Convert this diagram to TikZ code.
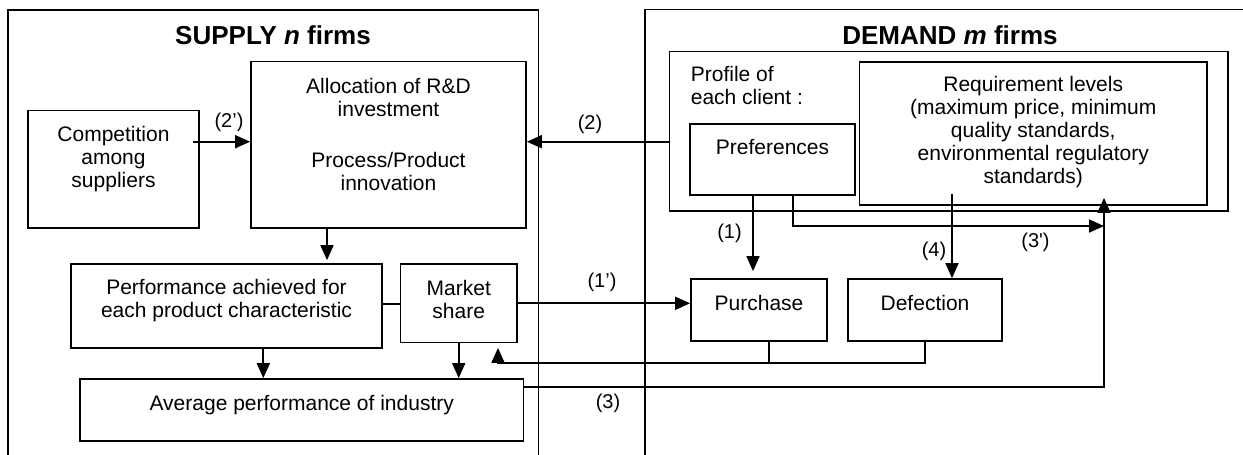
\documentclass[tikz,border=0pt]{standalone}
\usepackage{fontspec}
\setmainfont{Liberation Sans}
\usetikzlibrary{arrows.meta,calc}
\begin{document}
\begin{tikzpicture}[x=1pt,y=-1pt,
  line width=1.7pt,
  box/.style={draw,line width=1.7pt,inner sep=0pt,rectangle},
  txt/.style={inner sep=0pt,align=center,font=\fontsize{21}{23}\selectfont},
  txtone/.style={inner sep=0pt,font=\fontsize{21}{23}\selectfont,anchor=base},
  lbl/.style={inner sep=0pt,font=\fontsize{20}{22}\selectfont},
  ttl/.style={inner sep=0pt,font=\fontsize{26}{30}\selectfont\bfseries,anchor=base},
  arr/.style={-{Triangle[length=15pt,width=13pt]}},
]
\fill[white] (0,0) rectangle (1243,455);
\useasboundingbox (0,0) rectangle (1243,455);

% frames
\draw (8,455) -- (8,10) -- (538.5,10) -- (538.5,455);
\draw (645,455) -- (645,9.5) -- (1243,9.5);

% titles
\node[ttl] (supT) at (273,45) {SUPPLY \textit{n} firms};
\node[ttl] (demT) at (950,45) {DEMAND \textit{m} firms};

% boxes
\node[box,minimum width=171pt,minimum height=117.5pt] (comp) at (113.5,169.25) {};
\node[box,minimum width=275pt,minimum height=166.5pt] (alloc) at (388.5,144.75) {};
\node[box,minimum width=311pt,minimum height=84pt] (perf) at (226.5,306) {};
\node[box,minimum width=116.5pt,minimum height=78.5pt] (mshare) at (458.75,303.25) {};
\node[box,minimum width=443.5pt,minimum height=62pt] (avg) at (301.75,410) {};
\node[box,minimum width=558.5pt,minimum height=159.5pt] (profile) at (948.75,131.25) {};
\node[box,minimum width=165pt,minimum height=71pt] (pref) at (772.5,159.5) {};
\node[box,minimum width=347.5pt,minimum height=143.3pt] (req) at (1033.25,133.35) {};
\node[box,minimum width=136pt,minimum height=62pt] (purch) at (759,310) {};
\node[box,minimum width=154pt,minimum height=62pt] (defect) at (925,310) {};

% texts
\node[txt] (compT) at (113.5,159) {Competition\\among\\suppliers};
\node[txt] (allocT) at (388.5,134) {Allocation of R\&D\\investment\\[28pt]Process/Product\\innovation};
\node[txt] (perfT) at (226.5,301) {Performance achieved for\\each product characteristic};
\node[txt] (msT) at (458.75,299) {Market\\share};
\node[txtone] (avgT) at (301.75,410) {Average performance of industry};
\node[txt,align=left,anchor=west] (profT) at (690,85.7) {Profile of\\each client :};
\node[txtone] (prefT) at (772.5,154) {Preferences};
\node[txt] (reqT) at (1033.25,131.8) {Requirement levels\\(maximum price, minimum\\quality standards,\\environmental regulatory\\standards)};
\node[txtone] (purT) at (759,310) {Purchase};
\node[txtone] (defT) at (925,310) {Defection};

% labels
\node[lbl] (l2p) at (229,122) {(2’)};
\node[lbl] (l2) at (590,124) {(2)};
\node[lbl] (l1p) at (602,282) {(1’)};
\node[lbl] (l3) at (608,403) {(3)};
\node[lbl] (l1) at (729.5,233) {(1)};
\node[lbl] (l4) at (934,251) {(4)};
\node[lbl] (l3p) at (1035.5,242.5) {(3\textquotesingle)};

% helper coordinates
\coordinate (s2p) at (193,141.7);
\coordinate (xA) at (327,0);
\coordinate (xP) at (263.3,0);
\coordinate (xM) at (458.7,0);
\coordinate (yPM) at (0,304);
\coordinate (y1p) at (0,303.3);
\coordinate (fb) at (498,362.7);
\coordinate (xPu) at (769,0);
\coordinate (x1) at (753,0);
\coordinate (x3p) at (793,0);
\coordinate (k3) at (1104,226);
\coordinate (y3) at (0,386.7);
\coordinate (x4) at (952,0);
\coordinate (r4) at ($(req.south -| x4)+(0,-12)$);

% connectors
\draw[arr] (s2p) -- (alloc.west |- s2p);
\draw[arr] (profile.west |- s2p) -- (alloc.east |- s2p);
\draw[arr,shorten >=3pt] (alloc.south -| xA) -- (perf.north -| xA);
\draw[arr] (perf.south -| xP) -- (avg.north -| xP);
\draw[arr] (mshare.south -| xM) -- (avg.north -| xM);
\draw (perf.east |- yPM) -- (mshare.west |- yPM);
\draw[arr] (mshare.east |- y1p) -- (purch.west |- y1p);
\draw (purch.south -| xPu) -- (fb -| xPu);
\draw[arr,shorten >=4.5pt] (defect.south) |- (fb) -- (mshare.south -| fb);
\draw[arr,shorten >=7pt] (pref.south -| x1) -- (purch.north -| x1);
\draw[arr] (pref.south -| x3p) |- (k3);
\draw[arr,shorten >=-8pt] (avg.east |- y3) -| (req.south -| k3);
\draw[arr] (r4) -- (defect.north -| x4);
\end{tikzpicture}
\end{document}
